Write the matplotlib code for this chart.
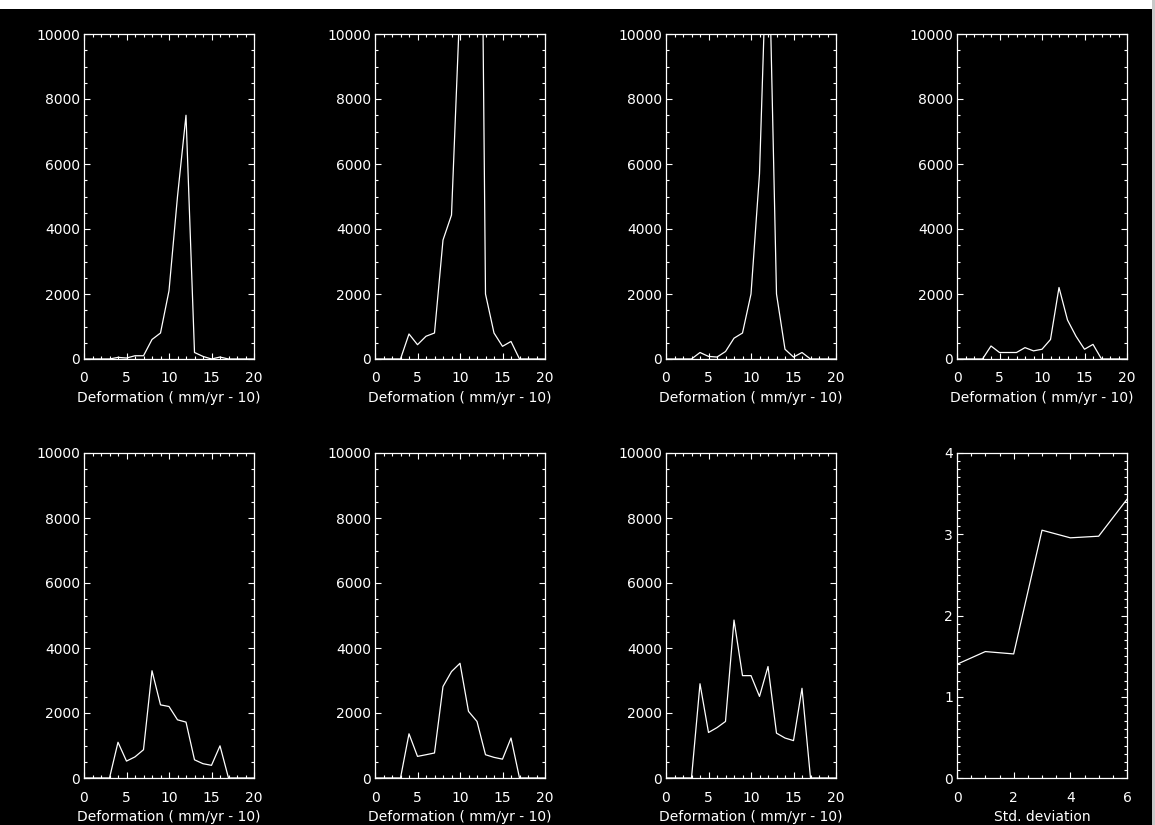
import matplotlib
matplotlib.use('Agg')
import matplotlib.pyplot as plt
from matplotlib.ticker import MultipleLocator
from matplotlib.patches import Rectangle

# deformation bins (mm/yr - 10)
defBins = list(range(0, 21))

# histogram counts per panel
hist1 = [0, 0, 0, 0, 50, 30, 100, 100, 600, 800, 2100, 5000, 7500, 200, 80, 0, 60, 0, 0, 0, 0]
hist2 = [0, 0, 0, 0, 770, 440, 700, 800, 3660, 4430, 11000, 25000, 30000, 2000, 800, 390, 540, 0, 0, 0, 0]
hist3 = [0, 0, 0, 0, 200, 80, 60, 230, 640, 800, 2000, 5700, 14000, 2000, 300, 60, 200, 0, 0, 0, 0]
hist4 = [0, 0, 0, 0, 400, 200, 200, 200, 350, 250, 300, 600, 2200, 1200, 700, 300, 450, 0, 0, 0, 0]
hist5 = [0, 0, 0, 0, 1100, 520, 650, 870, 3300, 2250, 2200, 1790, 1720, 560, 440, 390, 990, 0, 0, 0, 0]
hist6 = [0, 0, 0, 0, 1360, 665, 716, 770, 2815, 3275, 3530, 2050, 1740, 716, 635, 580, 1230, 0, 0, 0, 0]
hist7 = [0, 0, 0, 0, 2900, 1400, 1550, 1740, 4860, 3150, 3150, 2510, 3430, 1380, 1230, 1150, 2760, 0, 0, 0, 0]

# last panel: value vs std. deviation
stdDev = [0, 1, 2, 3, 4, 5, 6]
stdVals = [1.40, 1.556, 1.527, 3.05, 2.956, 2.976, 3.43]

defLabel = 'Deformation ( mm/yr - 10)'
stdLabel = 'Std. deviation'

W, H = 1155, 825
lefts = [84, 375, 666, 957]
tops = [34, 453]
boxW, boxH = 170, 325

plt.rcParams['font.family'] = ['DejaVu Sans']
plt.rcParams['font.size'] = 10
plt.rcParams['text.color'] = 'white'
plt.rcParams['axes.labelcolor'] = 'white'
plt.rcParams['xtick.color'] = 'white'
plt.rcParams['ytick.color'] = 'white'


def makeAxes(fig, col, row):
    rect = [lefts[col] / W, 1 - (tops[row] + boxH) / H, boxW / W, boxH / H]
    ax = fig.add_axes(rect)
    ax.set_facecolor('black')
    for s in ax.spines.values():
        s.set_color('white')
        s.set_linewidth(0.9)
    ax.tick_params(which='both', direction='in', top=True, right=True, width=0.8)
    ax.tick_params(which='major', length=4, pad=3)
    ax.tick_params(which='minor', length=2)
    ax.tick_params(axis='x', which='major', pad=9)
    return ax


def histPanel(fig, col, row, counts):
    ax = makeAxes(fig, col, row)
    ax.plot(defBins, counts, color='white', linewidth=0.9)
    ax.set_xlim(0, 20)
    ax.set_ylim(0, 10000)
    ax.xaxis.set_major_locator(MultipleLocator(5))
    ax.xaxis.set_minor_locator(MultipleLocator(1))
    ax.yaxis.set_major_locator(MultipleLocator(2000))
    ax.yaxis.set_minor_locator(MultipleLocator(500))
    ax.set_xlabel(defLabel, labelpad=4)
    return ax


fig = plt.figure(figsize=(W / 100, H / 100), dpi=100)
fig.patch.set_facecolor('black')
# white strip along the top edge and grey one at the right, as in the screen grab
fig.patches.append(Rectangle((0, 1 - 9 / H), 1, 9 / H, transform=fig.transFigure,
                             facecolor='white', edgecolor='none', zorder=-1))
fig.patches.append(Rectangle((1 - 3 / W, 0), 3 / W, 1, transform=fig.transFigure,
                             facecolor='#c8c8c8', edgecolor='none', zorder=-1))

panels = [hist1, hist2, hist3, hist4, hist5, hist6, hist7]
for i in range(len(panels)):
    histPanel(fig, i % 4, i // 4, panels[i])

ax = makeAxes(fig, 3, 1)
ax.plot(stdDev, stdVals, color='white', linewidth=0.9)
ax.set_xlim(0, 6)
ax.set_ylim(0, 4)
ax.xaxis.set_major_locator(MultipleLocator(2))
ax.xaxis.set_minor_locator(MultipleLocator(0.5))
ax.yaxis.set_major_locator(MultipleLocator(1))
ax.yaxis.set_minor_locator(MultipleLocator(0.1))
ax.set_xlabel(stdLabel, labelpad=4)

fig.savefig('out.png', dpi=100, facecolor=fig.get_facecolor())
